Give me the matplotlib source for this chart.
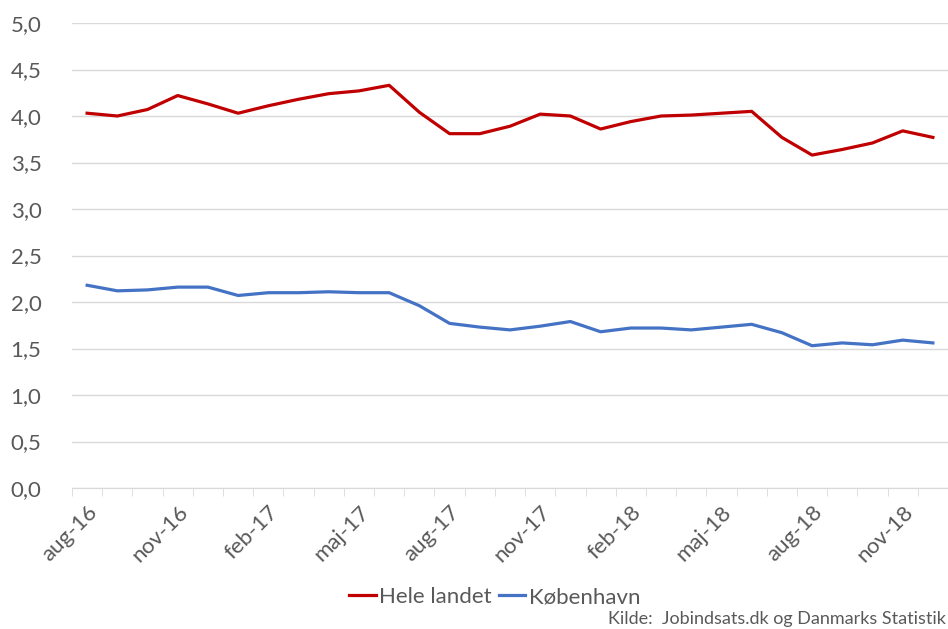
import numpy as np
import matplotlib
matplotlib.use("Agg")
import matplotlib.pyplot as plt
from matplotlib.ticker import FuncFormatter, FixedLocator

plt.rcParams['font.family'] = ['Lato', 'DejaVu Sans']

# maaneder aug-16 .. dec-18
months = ['aug-16', 'sep-16', 'okt-16', 'nov-16', 'dec-16', 'jan-17', 'feb-17',
          'mar-17', 'apr-17', 'maj-17', 'jun-17', 'jul-17', 'aug-17', 'sep-17',
          'okt-17', 'nov-17', 'dec-17', 'jan-18', 'feb-18', 'mar-18', 'apr-18',
          'maj-18', 'jun-18', 'jul-18', 'aug-18', 'sep-18', 'okt-18', 'nov-18',
          'dec-18']
hele_landet = [4.03, 4.00, 4.07, 4.22, 4.13, 4.03, 4.11, 4.18, 4.24, 4.27,
               4.33, 4.04, 3.81, 3.81, 3.89, 4.02, 4.00, 3.86, 3.94, 4.00,
               4.01, 4.03, 4.05, 3.77, 3.58, 3.64, 3.71, 3.84, 3.77]
koebenhavn = [2.18, 2.12, 2.13, 2.16, 2.16, 2.07, 2.10, 2.10, 2.11, 2.10,
              2.10, 1.96, 1.77, 1.73, 1.70, 1.74, 1.79, 1.68, 1.72, 1.72,
              1.70, 1.73, 1.76, 1.67, 1.53, 1.56, 1.54, 1.59, 1.56]

grey = '#595959'
x = np.arange(len(months))

fig = plt.figure(figsize=(9.48, 6.29), dpi=100)
ax = fig.add_axes([72/948, 1 - 488/629, 876/948, 465/629])

ax.plot(x, hele_landet, color='#C00000', lw=2.3, label='Hele landet')
ax.plot(x, koebenhavn, color='#4472C4', lw=2.3, label='København')

ax.set_xlim(-0.5, len(months) - 0.5)
ax.set_ylim(0, 5)
ax.set_yticks(np.arange(0, 5.01, 0.5))
ax.yaxis.set_major_formatter(FuncFormatter(lambda v, p: f'{v:.1f}'.replace('.', ',')))
ax.grid(axis='y', color='#d9d9d9', lw=1)
ax.set_axisbelow(True)

major = x[::3]
ax.set_xticks(major)
ax.set_xticklabels([months[i] for i in major], rotation=45, ha='right',
                   rotation_mode='anchor')
ax.xaxis.set_minor_locator(FixedLocator(np.arange(-0.5, len(months), 1)))
ax.tick_params(axis='x', which='major', length=0, pad=10, labelsize=16, colors=grey)
ax.tick_params(axis='x', which='minor', length=6, color='#d9d9d9')
ax.tick_params(axis='y', length=0, labelsize=16, colors=grey, pad=22)

for s in ['top', 'right', 'left']:
    ax.spines[s].set_visible(False)
ax.spines['bottom'].set_color('#d9d9d9')

fig.legend(loc='center', bbox_to_anchor=(0.522, 1 - 597/629), ncol=2, frameon=False,
           fontsize=16, labelcolor=grey, handlelength=1.2, handletextpad=0.15,
           columnspacing=0.3)
fig.text(946/948, 1 - 619/629, 'Kilde:  Jobindsats.dk og Danmarks Statistik',
         ha='right', va='center', fontsize=13, color=grey)

fig.savefig('out.png', dpi=100)
